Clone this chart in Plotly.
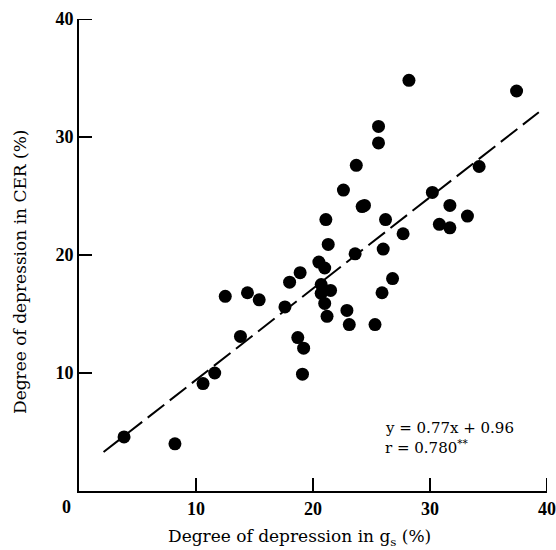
import plotly.graph_objects as go

# Data
gs_depression = [3.85, 8.2, 10.6, 11.6, 13.8, 12.5, 14.4, 15.4, 17.6, 18.0, 18.9,
                 18.7, 19.2, 19.1, 20.5, 21.0, 20.7, 21.5, 20.7, 21.0, 21.2, 21.3,
                 21.1, 22.9, 23.1, 23.6, 22.6, 23.7, 24.2, 24.4, 25.3, 25.6, 25.6,
                 25.9, 26.0, 26.2, 26.8, 27.7, 28.2, 30.2, 30.8, 31.7, 31.7, 33.2,
                 34.2, 37.4]
cer_depression = [4.58, 4.0, 9.1, 10.0, 13.1, 16.5, 16.8, 16.2, 15.6, 17.7, 18.5,
                  13.0, 12.1, 9.9, 19.4, 18.9, 17.5, 17.0, 16.75, 15.9, 14.8, 20.9,
                  23.0, 15.3, 14.1, 20.1, 25.5, 27.6, 24.1, 24.2, 14.1, 30.9, 29.5,
                  16.8, 20.5, 23.0, 18.0, 21.8, 34.8, 25.3, 22.6, 24.2, 22.3, 23.3,
                  27.5, 33.9]
fit_x = [2.1, 39.3]
fit_y = [3.3, 32.1]
tick_vals = [10, 20, 30, 40]
eq_lines = ["y = 0.77x + 0.96", "r = 0.780<sup>**</sup>"]

tick_font = "Liberation Serif"
title_font = "DejaVu Serif"

fig = go.Figure()
fig.add_trace(go.Scatter(
    x=fit_x, y=fit_y, mode="lines",
    line=dict(color="black", width=2, dash="21px,7px"),
    showlegend=False, hoverinfo="skip"))
fig.add_trace(go.Scatter(
    x=gs_depression, y=cer_depression, mode="markers",
    marker=dict(color="black", size=13, line=dict(width=0)),
    showlegend=False))

axis_common = dict(
    range=[0, 40], tickvals=tick_vals, showgrid=False, zeroline=False,
    showline=True, linecolor="black", linewidth=2,
    ticks="inside", ticklen=13, tickwidth=2, tickcolor="black",
    tickfont=dict(family=tick_font, size=18, color="black", weight="bold"),
)
fig.update_xaxes(**axis_common)
fig.update_yaxes(**axis_common)

# explicit inward tick marks
for v in tick_vals:
    fig.add_shape(type="line", xref="x", yref="y", x0=v, x1=v,
                  ysizemode="pixel", yanchor=0, y0=0, y1=13,
                  line=dict(color="black", width=2))
    fig.add_shape(type="line", xref="x", yref="y", y0=v, y1=v,
                  xsizemode="pixel", xanchor=0, x0=0, x1=13,
                  line=dict(color="black", width=2))

fig.add_annotation(text="0", x=0, y=0, xref="x", yref="y", showarrow=False,
                   xanchor="right", yanchor="top", xshift=-6, yshift=-4,
                   font=dict(family=tick_font, size=18, color="black", weight="bold"))
fig.add_annotation(text="Degree of depression in g<sub>s</sub> (%)",
                   x=0.472, y=0, xref="paper", yref="paper", showarrow=False,
                   xanchor="center", yanchor="middle", yshift=-46,
                   font=dict(family=title_font, size=17, color="black"))
fig.add_annotation(text="Degree of depression in CER (%)",
                   x=0, y=0.464, xref="paper", yref="paper", showarrow=False,
                   textangle=-90, xanchor="center", yanchor="middle", xshift=-59,
                   font=dict(family=title_font, size=17, color="black"))
for i, line in enumerate(eq_lines):
    fig.add_annotation(text=line, x=26.0, y=5.35 - 1.6 * i, xref="x", yref="y",
                       showarrow=False, xanchor="left", yanchor="middle",
                       font=dict(family=title_font, size=15, color="black"))

fig.update_layout(
    width=556, height=550,
    margin=dict(l=79, r=9, t=19, b=59, autoexpand=False),
    plot_bgcolor="white", paper_bgcolor="white",
    font=dict(family=tick_font, color="black"),
)
fig.write_html("out.html", config={"displayModeBar": False},
               post_script="document.body.style.margin='0';document.body.style.overflow='hidden';")
